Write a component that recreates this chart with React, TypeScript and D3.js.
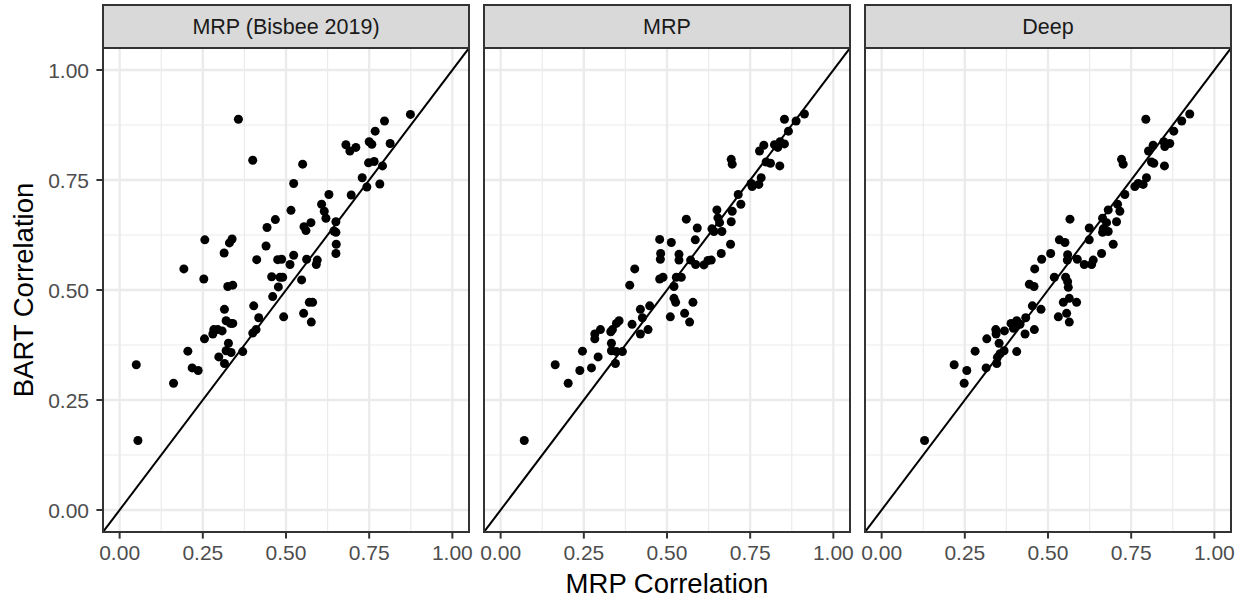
import React from "react";
import * as d3 from "d3";

// ---- Data ----
const panelTitles = ["MRP (Bisbee 2019)", "MRP", "Deep"];
const tickValues = [0, 0.25, 0.5, 0.75, 1];
const tickLabels = ["0.00", "0.25", "0.50", "0.75", "1.00"];
const minorTicks = [0.125, 0.375, 0.625, 0.875];
const xTitle = "MRP Correlation";
const yTitle = "BART Correlation";

// [MRP correlation, BART correlation]
const bisbeePoints: [number, number][] = [
  [0.357, 0.888], [0.40, 0.795], [0.55, 0.786], [0.523, 0.742], [0.515, 0.681], [0.468, 0.66],
  [0.443, 0.642], [0.256, 0.614], [0.338, 0.616], [0.33, 0.607], [0.314, 0.584], [0.44, 0.60],
  [0.193, 0.548], [0.253, 0.525], [0.325, 0.508], [0.34, 0.511], [0.412, 0.569], [0.475, 0.569],
  [0.487, 0.570], [0.523, 0.579], [0.512, 0.558], [0.457, 0.530], [0.482, 0.529], [0.49, 0.529],
  [0.477, 0.507], [0.547, 0.523], [0.46, 0.485], [0.57, 0.472], [0.58, 0.472], [0.554, 0.644],
  [0.56, 0.635], [0.575, 0.653], [0.562, 0.570], [0.594, 0.568], [0.591, 0.558], [0.607, 0.695],
  [0.615, 0.679], [0.62, 0.663], [0.629, 0.717], [0.65, 0.655], [0.644, 0.634], [0.65, 0.631],
  [0.651, 0.604], [0.65, 0.583], [0.696, 0.716], [0.68, 0.830], [0.692, 0.816], [0.71, 0.824],
  [0.75, 0.837], [0.758, 0.831], [0.768, 0.861], [0.796, 0.884], [0.874, 0.899], [0.813, 0.833],
  [0.748, 0.789], [0.765, 0.792], [0.79, 0.782], [0.729, 0.755], [0.743, 0.734], [0.782, 0.741],
  [0.403, 0.464], [0.493, 0.439], [0.553, 0.447], [0.576, 0.427], [0.418, 0.437], [0.315, 0.456],
  [0.32, 0.43], [0.333, 0.424], [0.34, 0.424], [0.283, 0.41], [0.295, 0.41], [0.308, 0.407],
  [0.28, 0.40], [0.41, 0.41], [0.40, 0.402], [0.255, 0.389], [0.327, 0.379], [0.205, 0.361],
  [0.32, 0.362], [0.335, 0.358], [0.37, 0.36], [0.298, 0.348], [0.315, 0.333], [0.218, 0.323],
  [0.236, 0.317], [0.05, 0.33], [0.162, 0.288], [0.055, 0.158],
];

const mrpPoints: [number, number][] = [
  [0.913, 0.9], [0.888, 0.884], [0.853, 0.888], [0.865, 0.861], [0.791, 0.829], [0.778, 0.816],
  [0.823, 0.83], [0.833, 0.824], [0.853, 0.832], [0.84, 0.837], [0.798, 0.791], [0.811, 0.788],
  [0.839, 0.782], [0.693, 0.797], [0.696, 0.786], [0.783, 0.755], [0.776, 0.74], [0.756, 0.735],
  [0.753, 0.742], [0.714, 0.717], [0.722, 0.695], [0.696, 0.679], [0.693, 0.655], [0.65, 0.682],
  [0.653, 0.664], [0.658, 0.653], [0.635, 0.639], [0.665, 0.633], [0.641, 0.633], [0.558, 0.661],
  [0.591, 0.641], [0.585, 0.614], [0.691, 0.604], [0.663, 0.583], [0.633, 0.568], [0.623, 0.567],
  [0.611, 0.557], [0.571, 0.568], [0.586, 0.558], [0.478, 0.615], [0.513, 0.608], [0.481, 0.583],
  [0.48, 0.570], [0.536, 0.581], [0.536, 0.568], [0.403, 0.548], [0.388, 0.511], [0.478, 0.525],
  [0.488, 0.529], [0.528, 0.529], [0.543, 0.529], [0.521, 0.508], [0.521, 0.481], [0.526, 0.472],
  [0.578, 0.472], [0.51, 0.439], [0.553, 0.447], [0.568, 0.427], [0.448, 0.464], [0.42, 0.456],
  [0.426, 0.437], [0.443, 0.41], [0.42, 0.40], [0.395, 0.422], [0.356, 0.43], [0.348, 0.424],
  [0.336, 0.41], [0.331, 0.405], [0.30, 0.41], [0.283, 0.40], [0.283, 0.389], [0.333, 0.379],
  [0.333, 0.362], [0.348, 0.36], [0.366, 0.36], [0.246, 0.361], [0.293, 0.348], [0.345, 0.333],
  [0.273, 0.323], [0.238, 0.317], [0.164, 0.33], [0.203, 0.288], [0.071, 0.158],
];

const deepPoints: [number, number][] = [
  [0.926, 0.9], [0.902, 0.884], [0.878, 0.861], [0.794, 0.888], [0.816, 0.829], [0.802, 0.816],
  [0.866, 0.833], [0.851, 0.826], [0.848, 0.837], [0.811, 0.791], [0.818, 0.788], [0.85, 0.782],
  [0.721, 0.797], [0.726, 0.786], [0.796, 0.755], [0.786, 0.74], [0.761, 0.735], [0.771, 0.742],
  [0.731, 0.717], [0.709, 0.695], [0.716, 0.679], [0.706, 0.655], [0.681, 0.682], [0.664, 0.663],
  [0.676, 0.653], [0.666, 0.639], [0.681, 0.633], [0.664, 0.631], [0.566, 0.661], [0.624, 0.641],
  [0.624, 0.614], [0.696, 0.604], [0.661, 0.583], [0.636, 0.568], [0.631, 0.558], [0.609, 0.558],
  [0.588, 0.570], [0.559, 0.58], [0.558, 0.568], [0.534, 0.614], [0.551, 0.608], [0.508, 0.583],
  [0.481, 0.57], [0.46, 0.548], [0.444, 0.513], [0.458, 0.508], [0.519, 0.529], [0.553, 0.529],
  [0.559, 0.519], [0.561, 0.506], [0.564, 0.481], [0.546, 0.472], [0.586, 0.472], [0.531, 0.439],
  [0.556, 0.447], [0.564, 0.427], [0.453, 0.464], [0.479, 0.456], [0.433, 0.437], [0.459, 0.41],
  [0.431, 0.40], [0.406, 0.43], [0.389, 0.424], [0.416, 0.422], [0.396, 0.413], [0.343, 0.41],
  [0.344, 0.40], [0.369, 0.407], [0.316, 0.389], [0.353, 0.379], [0.368, 0.362], [0.356, 0.355],
  [0.348, 0.347], [0.406, 0.36], [0.281, 0.361], [0.346, 0.333], [0.314, 0.323], [0.256, 0.317],
  [0.218, 0.33], [0.248, 0.288], [0.129, 0.158],
];

const panelData = [bisbeePoints, mrpPoints, deepPoints];

// ---- Layout ----
const W = 1247;
const H = 598;
const panelLeft0 = 103;
const panelW = 366;
const panelStep = 381;
const panelTop = 48;
const panelBottom = 532;
const stripTop = 5;
const domain: [number, number] = [-0.05, 1.05];
const FONT = "'Liberation Sans', Arial, Helvetica, sans-serif";

const yScale = d3.scaleLinear().domain(domain).range([panelBottom, panelTop]);

function Panel({ idx }: { idx: number }) {
  const left = panelLeft0 + idx * panelStep;
  const x = d3.scaleLinear().domain(domain).range([left, left + panelW]);
  const pts = panelData[idx];
  const clipId = `clip-${idx}`;
  const line = d3.line<[number, number]>()
    .x((d) => x(d[0]))
    .y((d) => yScale(d[1]));
  return (
    <g>
      <defs>
        <clipPath id={clipId}>
          <rect x={left} y={panelTop} width={panelW} height={panelBottom - panelTop} />
        </clipPath>
      </defs>
      <rect x={left} y={panelTop} width={panelW} height={panelBottom - panelTop} fill="#ffffff" />
      {minorTicks.map((t) => (
        <g key={"m" + t}>
          <line x1={x(t)} x2={x(t)} y1={panelTop} y2={panelBottom} stroke="#ebebeb" strokeWidth={1.2} />
          <line x1={left} x2={left + panelW} y1={yScale(t)} y2={yScale(t)} stroke="#ebebeb" strokeWidth={1.2} />
        </g>
      ))}
      {tickValues.map((t) => (
        <g key={"M" + t}>
          <line x1={x(t)} x2={x(t)} y1={panelTop} y2={panelBottom} stroke="#ebebeb" strokeWidth={2.3} />
          <line x1={left} x2={left + panelW} y1={yScale(t)} y2={yScale(t)} stroke="#ebebeb" strokeWidth={2.3} />
        </g>
      ))}
      <g clipPath={`url(#${clipId})`}>
        <path d={line([[-0.1, -0.1], [1.1, 1.1]]) || ""} stroke="#000" strokeWidth={2} fill="none" />
        {pts.map((p, i) => (
          <circle key={i} cx={x(p[0])} cy={yScale(p[1])} r={4.5} fill="#000" />
        ))}
      </g>
      <rect x={left} y={panelTop} width={panelW} height={panelBottom - panelTop} fill="none" stroke="#333333" strokeWidth={2} />
      {/* strip */}
      <rect x={left} y={stripTop} width={panelW} height={panelTop - stripTop} fill="#d9d9d9" stroke="#333333" strokeWidth={2} />
      <text x={left + panelW / 2} y={34} textAnchor="middle" fontFamily={FONT} fontSize={21.5} fill="#1a1a1a">
        {panelTitles[idx]}
      </text>
      {/* x axis */}
      {tickValues.map((t, i) => (
        <g key={"xt" + t}>
          <line x1={x(t)} x2={x(t)} y1={panelBottom} y2={panelBottom + 6.6} stroke="#333333" strokeWidth={2} />
          <text x={x(t)} y={560} textAnchor="middle" fontFamily={FONT} fontSize={21} fill="#4d4d4d">
            {tickLabels[i]}
          </text>
        </g>
      ))}
    </g>
  );
}

export default function App() {
  const left = panelLeft0;
  const right = panelLeft0 + 2 * panelStep + panelW;
  return (
    <div style={{ position: "absolute", left: 0, top: 0 }}>
      <svg width={W} height={H} viewBox={`0 0 ${W} ${H}`} style={{ display: "block", background: "#fff" }}>
        <rect x={0} y={0} width={W} height={H} fill="#fff" />
        {panelTitles.map((_, i) => (
          <Panel key={i} idx={i} />
        ))}
        {/* y axis */}
        {tickValues.map((t, i) => (
          <g key={"yt" + t}>
            <line x1={left - 6.6} x2={left} y1={yScale(t)} y2={yScale(t)} stroke="#333333" strokeWidth={2} />
            <text x={89} y={yScale(t) + 7.5} textAnchor="end" fontFamily={FONT} fontSize={21} fill="#4d4d4d">
              {tickLabels[i]}
            </text>
          </g>
        ))}
        <text
          transform={`translate(33, ${(panelTop + panelBottom) / 2}) rotate(-90)`}
          textAnchor="middle"
          fontFamily={FONT}
          fontSize={27.5}
          fill="#000"
        >
          {yTitle}
        </text>
        <text x={(left + right) / 2} y={593} textAnchor="middle" fontFamily={FONT} fontSize={27.5} fill="#000">
          {xTitle}
        </text>
      </svg>
    </div>
  );
}
